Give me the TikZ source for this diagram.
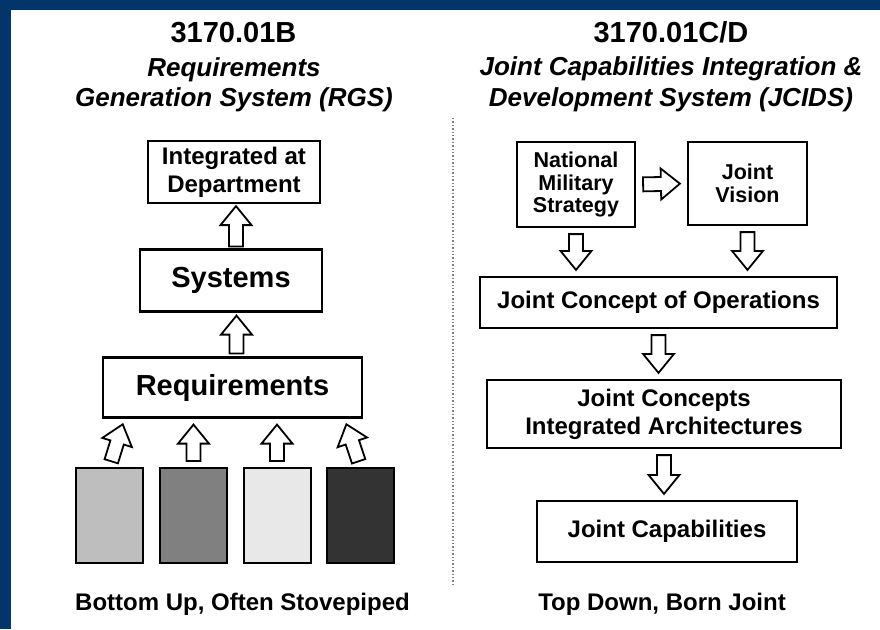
\documentclass[tikz,border=0pt]{standalone}
\usepackage{fontspec}
\setmainfont{Liberation Sans}
\usetikzlibrary{calc}

\definecolor{frameblue}{RGB}{3,53,106}
\definecolor{stackA}{RGB}{190,190,190}
\definecolor{stackB}{RGB}{128,128,128}
\definecolor{stackC}{RGB}{232,232,232}
\definecolor{stackD}{RGB}{51,51,51}

% block-arrow geometry
\def\bahead{19pt}
\def\bashaft{7pt}
\def\bawing{15.5pt}

% hollow block arrow from #2 to #3, kept #1 away from both ends
\newcommand\hollowarrow[3][5pt]{%
  \path ($(#2)!#1!(#3)$) coordinate (ha-s)
        ($(#3)!#1!(#2)$) coordinate (ha-e);
  \path ($(ha-e)!\bahead!(ha-s)$) coordinate (ha-n);
  \draw[blockarrow]
    ($(ha-s)!\bashaft!90:(ha-e)$) -- ($(ha-n)!\bashaft!90:(ha-e)$) --
    ($(ha-n)!\bawing!90:(ha-e)$) -- (ha-e) --
    ($(ha-n)!\bawing!-90:(ha-e)$) -- ($(ha-n)!\bashaft!-90:(ha-e)$) --
    ($(ha-s)!\bashaft!-90:(ha-e)$) -- cycle;}

\begin{document}
\begin{tikzpicture}[x=1pt,y=-1pt,
  box/.style={draw=black,line width=2.2pt,fill=white,inner sep=0pt,align=center,
    font=\bfseries\fontsize{24}{28}\selectfont},
  bigbox/.style={box,font=\bfseries\fontsize{29}{32}\selectfont},
  smallbox/.style={box,font=\bfseries\fontsize{21.5}{22.5}\selectfont},
  stackbox/.style={draw=black,line width=2pt,inner sep=0pt,
    minimum width=67pt,minimum height=95pt},
  blockarrow/.style={draw=black,line width=1.8pt,fill=white,line join=miter},
  title/.style={font=\bfseries\fontsize{29}{32}\selectfont,anchor=base,inner sep=0pt},
  subtitle/.style={font=\bfseries\itshape\fontsize{26}{30}\selectfont,anchor=base,inner sep=0pt},
  caption/.style={font=\bfseries\fontsize{24}{28}\selectfont,anchor=base,inner sep=0pt},
  divider/.style={draw=gray,line width=1.4pt,dotted}]

\useasboundingbox (0,0) rectangle (880,629);
\fill[white] (0,0) rectangle (880,629);
\fill[frameblue] (0,0) rectangle (880,10);
\fill[frameblue] (0,0) rectangle (11,629);

% column headings
\node[title]    (ltitle) at (233.5,42.5) {3170.01B};
\node[subtitle] (lsub1)  at (234,76)   {Requirements};
\node[subtitle] (lsub2)  at (234,106)  {Generation System (RGS)};
\node[title]    (rtitle) at (671,42)   {3170.01C/D};
\node[subtitle] (rsub1)  at (671,75)   {Joint Capabilities Integration \&};
\node[subtitle] (rsub2)  at (671,106)  {Development System (JCIDS)};

% separator between the two columns
\coordinate (divtop) at (453,118);
\coordinate (divbot) at (453,585);
\draw[divider] (divtop) -- (divbot);

% ---- left column: bottom-up RGS ----
\node[box,minimum width=172pt,minimum height=62pt] (dept) at (234,172)
  {Integrated at\\Department};
\node[bigbox,minimum width=182pt,minimum height=62pt] (sys) at (231,280.5) {Systems};
\node[bigbox,minimum width=259pt,minimum height=60pt] (req) at (232.5,387.5) {Requirements};

\node[stackbox,fill=stackA] (s1) at (109.5,515.5) {};
\node[stackbox,fill=stackB] (s2) at (193.5,515.5) {};
\node[stackbox,fill=stackC] (s3) at (277,515.5) {};
\node[stackbox,fill=stackD] (s4) at (360.5,515.5) {};

\coordinate (v1) at ($(dept.south |- sys.north)+(2,0)$);
\coordinate (w1) at ($(dept.south)+(2,0)$);
\coordinate (v2) at ($(req.north)+(4,0)$);
\coordinate (w2) at (v2 |- sys.south);
\hollowarrow[2pt]{v1}{w1}
\hollowarrow[3pt]{v2}{w2}

\coordinate (t1) at ($(s1.north |- req.south)+(15,0)$);
\coordinate (t2) at (s2.north |- req.south);
\coordinate (t3) at (s3.north |- req.south);
\coordinate (t4) at ($(s4.north |- req.south)+(-16,0)$);
\hollowarrow[6pt]{s1.north}{t1}
\hollowarrow[6pt]{s2.north}{t2}
\hollowarrow[6pt]{s3.north}{t3}
\hollowarrow[6pt]{s4.north}{t4}

\node[caption] (lcap) at (242.5,610) {Bottom Up, Often Stovepiped};

% ---- right column: top-down JCIDS ----
\node[smallbox,minimum width=118pt,minimum height=85pt] (nms) at (576,184.5)
  {National\\Military\\Strategy};
\node[smallbox,minimum width=119pt,minimum height=83pt] (jv) at (747.5,183.5)
  {Joint\\Vision};
\node[box,minimum width=357pt,minimum height=51pt] (jco) at (658.5,302.5)
  {Joint Concept of Operations};
\node[box,minimum width=354pt,minimum height=68pt] (jca) at (664,414)
  {Joint Concepts\\Integrated Architectures};
\node[box,minimum width=260pt,minimum height=61pt] (jcap) at (667,531.5)
  {Joint Capabilities};

\coordinate (u1) at (nms.south |- jco.north);
\coordinate (u2) at (jv.south |- jco.north);
\coordinate (u3) at (jco.south |- jca.north);
\coordinate (u4) at (jca.south |- jcap.north);

\hollowarrow[7pt]{nms.east}{jv.west}
\hollowarrow[6pt]{nms.south}{u1}
\hollowarrow[6pt]{jv.south}{u2}
\hollowarrow[6pt]{jco.south}{u3}
\hollowarrow[6pt]{jca.south}{u4}

\node[caption] (rcap) at (662,610) {Top Down, Born Joint};
\end{tikzpicture}
\end{document}
